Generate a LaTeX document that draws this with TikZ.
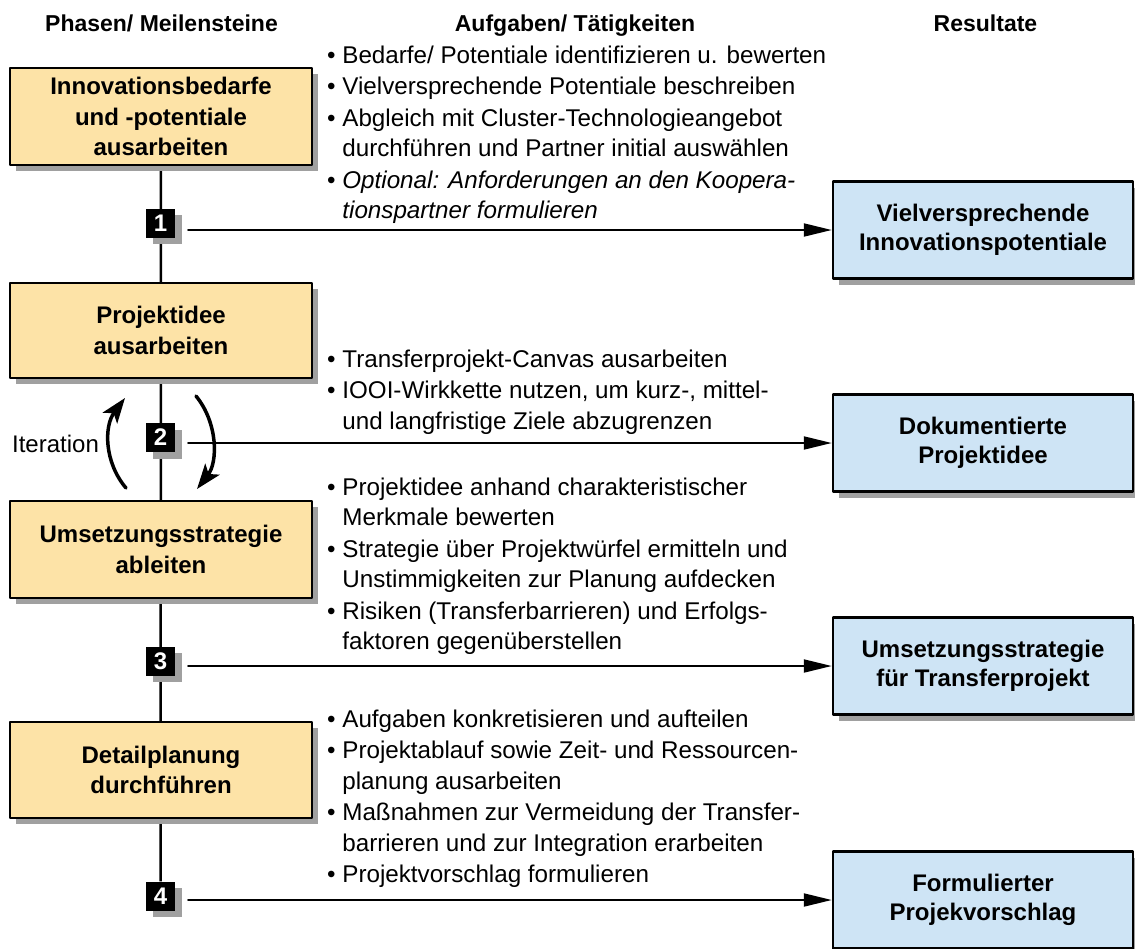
\documentclass[tikz,border=0pt]{standalone}
\usepackage{fontspec}
\setmainfont{Liberation Sans}
\usetikzlibrary{arrows.meta,shadows,backgrounds}
\definecolor{phasefill}{RGB}{253,227,167}
\definecolor{resultfill}{RGB}{206,228,245}
\definecolor{shadowgray}{RGB}{160,160,160}
% bullet and continuation line for the task lists
\newcommand\itm{\strut\textbullet\ }
\newcommand\cnt{\strut\phantom{\textbullet\ }}
\begin{document}
\begin{tikzpicture}[x=1pt,y=-1pt,line join=round,line cap=round,>=Stealth,
  boxshadow/.style={drop shadow={shadow xshift=6pt,shadow yshift=-6pt,fill=shadowgray,opacity=1}},
  phase/.style={draw,line width=2.5pt,fill=phasefill,minimum width=302pt,align=center,
    font=\bfseries\fontsize{24}{30.5}\selectfont,boxshadow},
  result/.style={draw,line width=2.5pt,fill=resultfill,minimum width=300pt,minimum height=97pt,
    align=center,font=\bfseries\fontsize{24}{29}\selectfont,boxshadow},
  mile/.style={fill=black,text=white,minimum size=29pt,font=\bfseries\fontsize{24}{24}\selectfont,
    drop shadow={shadow xshift=6.5pt,shadow yshift=-6.5pt,fill=shadowgray,opacity=1}},
  head/.style={anchor=base,font=\bfseries\fontsize{23}{28}\selectfont},
  tasks/.style={anchor=north west,align=left,font=\fontsize{24.2}{30.5}\selectfont},
  flow/.style={line width=2pt,-{Triangle[length=28pt,width=13pt]}},
  spine/.style={line width=2.5pt},
  iter/.style={line width=3.5pt,-{Stealth[length=25pt,width=18pt,inset=6pt]}}]
  \tikzset{every node/.style={inner sep=0pt}}
  \useasboundingbox (0,0) rectangle (1135,948);
  % column heads
  \node[head] (hphase) at (161.5,31.5) {Phasen/ Meilensteine};
  \node[head] (htask) at (575,31.5) {Aufgaben/ Tätigkeiten};
  \node[head] (hres) at (985.5,31.5) {Resultate};
  % phases
  \node[phase,minimum height=97pt] (p1) at (161,116.5) {Innovationsbedarfe\\und -potentiale\\ausarbeiten};
  \node[phase,minimum height=95pt] (p2) at (161,330.5) {Projektidee\\ausarbeiten};
  \node[phase,minimum height=97pt] (p3) at (161,549.5) {Umsetzungsstrategie\\ableiten};
  \node[phase,minimum height=96pt] (p4) at (161,770) {Detailplanung\\durchführen};
  % milestones
  \foreach \i/\y in {1/223,2/437.5,3/661,4/896}
    \node[mile] (m\i) at (160.5,\y) {\i};
  % results
  \node[result] (r1) at (983,230) {Vielversprechende\\Innovationspotentiale};
  \node[result] (r2) at (983,443) {Dokumentierte\\Projektidee};
  \node[result] (r3) at (983,666) {Umsetzungsstrategie\\für Transferprojekt};
  \node[result] (r4) at (983,900) {Formulierter\\Projekvorschlag};
  % tasks
  \node[tasks] (t1) at (327,41.65) {\itm Bedarfe/ Potentiale identifizieren u. bewerten\\[1pt]
    \itm Vielversprechende Potentiale beschreiben\\[1pt]
    \itm Abgleich mit Cluster-Technologieangebot\\
    \cnt durchführen und Partner initial auswählen\\[1pt]
    \itm\textit{Optional: Anforderungen an den Koopera-}\\
    \cnt\textit{tionspartner formulieren}};
  \node[tasks] (t2) at (327,345.65) {\itm Transferprojekt-Canvas ausarbeiten\\[1pt]
    \itm IOOI-Wirkkette nutzen, um kurz-, mittel-\\
    \cnt und langfristige Ziele abzugrenzen};
  \node[tasks] (t3) at (327,473.65) {\itm Projektidee anhand charakteristischer\\
    \cnt Merkmale bewerten\\[1pt]
    \itm Strategie über Projektwürfel ermitteln und\\
    \cnt Unstimmigkeiten zur Planung aufdecken\\[1pt]
    \itm Risiken (Transferbarrieren) und Erfolgs-\\
    \cnt faktoren gegenüberstellen};
  \node[tasks] (t4) at (327,705.65) {\itm Aufgaben konkretisieren und aufteilen\\[1pt]
    \itm Projektablauf sowie Zeit- und Ressourcen-\\
    \cnt planung ausarbeiten\\[1pt]
    \itm Maßnahmen zur Vermeidung der Transfer-\\
    \cnt barrieren und zur Integration erarbeiten\\[1pt]
    \itm Projektvorschlag formulieren};
  % time line behind phases and milestones
  \begin{scope}[on background layer]
    \draw[spine] (p1.south) -- (m4.north);
  \end{scope}
  \foreach \i in {1,...,4}
    \draw[flow,shorten <=13pt] (m\i.east |- r\i.west) -- (r\i.west);
  % iteration between phase 2 and 3
  \node[anchor=base,font=\fontsize{24}{28}\selectfont] (itlabel) at (55.5,452.5) {Iteration};
  \coordinate (itupS) at (126,488);
  \coordinate (itupE) at (125,398);
  \coordinate (itdnS) at (196,396);
  \coordinate (itdnE) at (197,489);
  \draw[iter] (itupS) .. controls (104,462) and (104,426) .. (itupE);
  \draw[iter] (itdnS) .. controls (218,423) and (218,462) .. (itdnE);
\end{tikzpicture}
\end{document}
